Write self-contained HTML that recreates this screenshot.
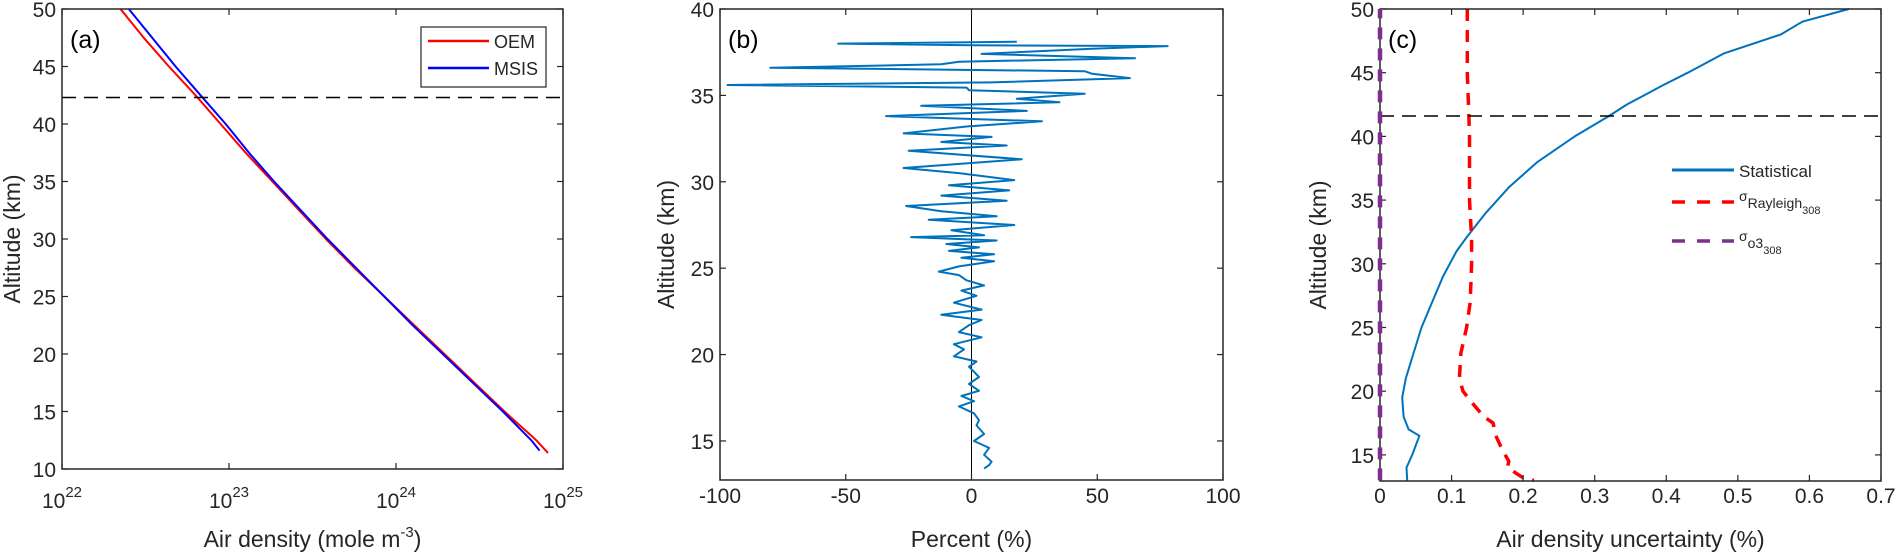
<!DOCTYPE html>
<html><head><meta charset="utf-8"><style>
body{margin:0;background:#fff}
svg{display:block;font-family:"Liberation Sans",sans-serif}
</style></head><body>
<svg id="fig" width="1897" height="555" viewBox="0 0 1897 555" xmlns="http://www.w3.org/2000/svg"></svg>
<script>
// ---- Panel (a) data ----
const aAlt = [50,47.5,45,42.5,40,37.5,35,32.5,30,27.5,25,22.5,20,17.5,15,12.5,11.4];
const aOEM = [22.35,22.49,22.64,22.80,22.95,23.10,23.26,23.42,23.58,23.75,23.93,24.11,24.29,24.47,24.65,24.84,24.91];
const aMSISAlt = [50,47.5,45,42.5,40,37.5,35,32.5,30,27.5,25,22.5,20,17.5,15,12.5,11.6];
const aMSIS = [22.40,22.54,22.68,22.83,22.98,23.12,23.27,23.43,23.59,23.76,23.93,24.10,24.28,24.46,24.64,24.81,24.86];
const aXTicks = [22,23,24,25];
const aYTicks = [10,15,20,25,30,35,40,45,50];
const aDash = 42.3;
// ---- Panel (b) data ----
const bAlt = [38.1,38.0,37.9,37.85,37.7,37.4,37.15,36.95,36.8,36.6,36.4,36.25,36.0,35.75,35.6,35.45,35.3,35.1,34.8,34.6,34.4,34.1,33.8,33.5,33.2,32.8,32.6,32.3,32.1,31.8,31.3,30.8,30.5,30.1,29.8,29.5,29.2,28.9,28.6,28.3,28.0,27.8,27.5,27.2,26.9,26.8,26.6,26.4,26.2,26.0,25.8,25.6,25.4,25.1,24.8,24.6,24.3,24.0,23.7,23.4,23.0,22.6,22.3,22.0,21.7,21.3,21.0,20.6,20.3,19.9,19.6,19.3,19.0,18.7,18.3,17.9,17.6,17.3,17.0,16.6,16.2,15.9,15.4,15.0,14.6,14.2,13.8,13.6,13.4];
const bPct = [18,-53,0,78,48,4,65,-5,-12,-80,45,48,63,8,-97,-2,-1,45,18,35,-20,22,-34,28,-2,-27,8,-12,14,-25,20,-27,-5,17,-9,15,-12,14,-26,-12,10,-17,17,-8,5,-24,10,-10,3,-9,9,-4,9,-5,-13,-5,-2,5,-4,2,-7,4,-12,4,-1,-5,4,-7,-3,-7,2,-1,1,3,-1,3,-4,1,-5,1,3,2,5,1,7,5,8,7,5];
const bXTicks = [-100,-50,0,50,100];
const bYTicks = [15,20,25,30,35,40];
// ---- Panel (c) data ----
const cStatAlt = [13,14,15,16.5,17,18,19.5,21,23,25,27,29,31,32,34,36,38,40,41.6,42.5,44,45,46.5,48,49,50];
const cStat = [0.038,0.037,0.045,0.055,0.040,0.033,0.031,0.036,0.047,0.058,0.073,0.088,0.107,0.120,0.148,0.180,0.220,0.272,0.320,0.345,0.395,0.430,0.480,0.560,0.590,0.655];
const cRayAlt = [50,45,42,40,35,32,30,27,25,23,21,20,19,18,17.5,16.5,15.5,14.5,14,13.2,13];
const cRay = [0.122,0.122,0.124,0.125,0.125,0.128,0.128,0.126,0.121,0.113,0.111,0.116,0.130,0.145,0.158,0.162,0.170,0.180,0.178,0.200,0.215];
const cO3Alt = [13,50];
const cO3 = [0,0];
const cXTicks = [0,0.1,0.2,0.3,0.4,0.5,0.6,0.7];
const cYTicks = [15,20,25,30,35,40,45,50];
const cDash = 41.6;

const NS="http://www.w3.org/2000/svg";
const svg=document.getElementById('fig');
function el(tag,attrs,parent){const e=document.createElementNS(NS,tag);for(const k in attrs)e.setAttribute(k,attrs[k]);(parent||svg).appendChild(e);return e;}
const INK="#262626";

function panel(name,box,xr,yr){
  const g=el('g',{});
  
  
  const sx=v=>box.l+(v-xr[0])/(xr[1]-xr[0])*(box.r-box.l);
  const sy=v=>box.b-(v-yr[0])/(yr[1]-yr[0])*(box.b-box.t);
  return {g,sx,sy,box};
}
function frame(p){
  const b=p.box;
  const r=el('rect',{x:b.l,y:b.t,width:b.r-b.l,height:b.b-b.t,fill:'none',stroke:INK,'stroke-width':1.5},p.g);
  
  
}
function xticks(p,ticks,fmt,sup){
  const b=p.box;
  ticks.forEach(t=>{
    const x=p.sx(t);
    el('line',{x1:x,y1:b.b,x2:x,y2:b.b-6,stroke:INK,'stroke-width':1.2},p.g);
    el('line',{x1:x,y1:b.t,x2:x,y2:b.t+6,stroke:INK,'stroke-width':1.2},p.g);
    const tx=el('text',{x:x,y:503,'text-anchor':'middle','font-size':21,fill:INK},p.g);
    
    
    if(sup){tx.setAttribute('y',508);tx.textContent='10';const ts=el('tspan',{dy:-11,'font-size':15},tx);ts.textContent=String(t);}
    else tx.textContent=fmt(t);
  });
}
function yticks(p,ticks){
  const b=p.box;
  ticks.forEach(t=>{
    const y=p.sy(t);
    el('line',{x1:b.l,y1:y,x2:b.l+6,y2:y,stroke:INK,'stroke-width':1.2},p.g);
    el('line',{x1:b.r,y1:y,x2:b.r-6,y2:y,stroke:INK,'stroke-width':1.2},p.g);
    const tx=el('text',{x:b.l-6,y:y+8,'text-anchor':'end','font-size':21,fill:INK},p.g);
    
    
    tx.textContent=String(t);
  });
}
function titles(p,xt,yx,label,xsup){
  const b=p.box;
  const cx=(b.l+b.r)/2;
  const t=el('text',{x:cx,y:547,'text-anchor':'middle','font-size':23,fill:INK},p.g);
  
  
  if(xsup){t.textContent=xt;const s=el('tspan',{dy:-10,'font-size':15},t);s.textContent='-3';const s2=el('tspan',{dy:10},t);s2.textContent=')';}
  else t.textContent=xt;
  const cy=(b.t+b.b)/2;
  const y=el('text',{x:yx,y:cy,'text-anchor':'middle','font-size':23,fill:INK,transform:`rotate(-90 ${yx} ${cy})`},p.g);
  
  
  y.textContent='Altitude (km)';
  const pl=el('text',{x:b.l+8,y:48,'font-size':25,fill:'#000'},p.g);
  
  
  pl.textContent=label;
}
function line(p,xs,ys,attrs,name){
  const d=xs.map((v,i)=>(i?'L':'M')+p.sx(v).toFixed(1)+','+p.sy(ys[i]).toFixed(1)).join('');
  const a=Object.assign({d:d,fill:'none','stroke-linejoin':'round'},attrs);
  const e=el('path',a,p.g);
  
  
  return e;
}
function dashH(p,v){
  const b=p.box;
  const e=el('line',{x1:b.l,x2:b.r,y1:p.sy(v),y2:p.sy(v),stroke:'#000','stroke-width':1.5,'stroke-dasharray':'14,8'},p.g);
  
  
}

// Panel a
const A=panel('panel-a-density',{l:62,r:563,t:9,b:469},[22,25],[10,50]);
line(A,aOEM,aAlt,{stroke:'#ff0000','stroke-width':2},'oem-line');
line(A,aMSIS,aMSISAlt,{stroke:'#0000ff','stroke-width':2},'msis-line');
dashH(A,aDash);
frame(A);xticks(A,aXTicks,null,true);yticks(A,aYTicks);
titles(A,'Air density (mole m',20,'(a)',true);
{
  const lg=el('g',{},A.g);
  
  
  el('rect',{x:421,y:27,width:125,height:60,fill:'#fff',stroke:INK,'stroke-width':1.2},lg);
  const items=[['OEM','#ff0000',46],['MSIS','#0000ff',73]];
  items.forEach(([n,c,y])=>{
    const en=el('g',{},lg);
    
    
    el('line',{x1:428,x2:489,y1:y-5,y2:y-5,stroke:c,'stroke-width':2.5},en);
    const t=el('text',{x:494,y:y+2,'font-size':18,fill:INK},en);t.textContent=n;
  });
}

// Panel b
const B=panel('panel-b-percent',{l:720,r:1223,t:9,b:480},[-100,100],[12.74,40]);
{const z=el('line',{x1:B.sx(0),x2:B.sx(0),y1:9,y2:480,stroke:'#000','stroke-width':1},B.g);
}
line(B,bPct,bAlt,{stroke:'#0072bd','stroke-width':2},'percent-difference-line');
frame(B);xticks(B,bXTicks,t=>String(t),false);yticks(B,bYTicks);
titles(B,'Percent (%)',674,'(b)',false);

// Panel c
const C=panel('panel-c-uncertainty',{l:1380,r:1881,t:9,b:481},[0,0.7],[12.95,50]);
line(C,cStat,cStatAlt,{stroke:'#0072bd','stroke-width':2},'statistical-line');
line(C,cRay,cRayAlt,{stroke:'#ff0000','stroke-width':3.5,'stroke-dasharray':'12,9'},'rayleigh-line');
dashH(C,cDash);
frame(C);xticks(C,cXTicks,t=>String(t),false);yticks(C,cYTicks);
line(C,cO3,cO3Alt,{stroke:'#7e2f8e','stroke-width':4.5,'stroke-dasharray':'12,9'},'o3-line');
titles(C,'Air density uncertainty (%)',1326,'(c)',false);
{
  const lg=el('g',{},C.g);
  
  
  const e1=el('g',{},lg);
  el('line',{x1:1672,x2:1734,y1:170,y2:170,stroke:'#0072bd','stroke-width':3},e1);
  const t1=el('text',{x:1739,y:177,'font-size':17,fill:INK},e1);t1.textContent='Statistical';
  const e2=el('g',{},lg);
  el('line',{x1:1672,x2:1734,y1:202,y2:202,stroke:'#ff0000','stroke-width':3.5,'stroke-dasharray':'13,12'},e2);
  const t2=el('text',{x:1739,y:201,'font-size':14,fill:INK},e2);t2.textContent='σ';
  const s2=el('tspan',{dy:7},t2);s2.textContent='Rayleigh';
  const s2b=el('tspan',{dy:6,'font-size':11},t2);s2b.textContent='308';
  const e3=el('g',{},lg);
  el('line',{x1:1672,x2:1734,y1:241,y2:241,stroke:'#7e2f8e','stroke-width':3.5,'stroke-dasharray':'13,12'},e3);
  const t3=el('text',{x:1739,y:241,'font-size':14,fill:INK},e3);t3.textContent='σ';
  const s3=el('tspan',{dy:7},t3);s3.textContent='o3';
  const s3b=el('tspan',{dy:6,'font-size':11},t3);s3b.textContent='308';
}
</script>
</body></html>
